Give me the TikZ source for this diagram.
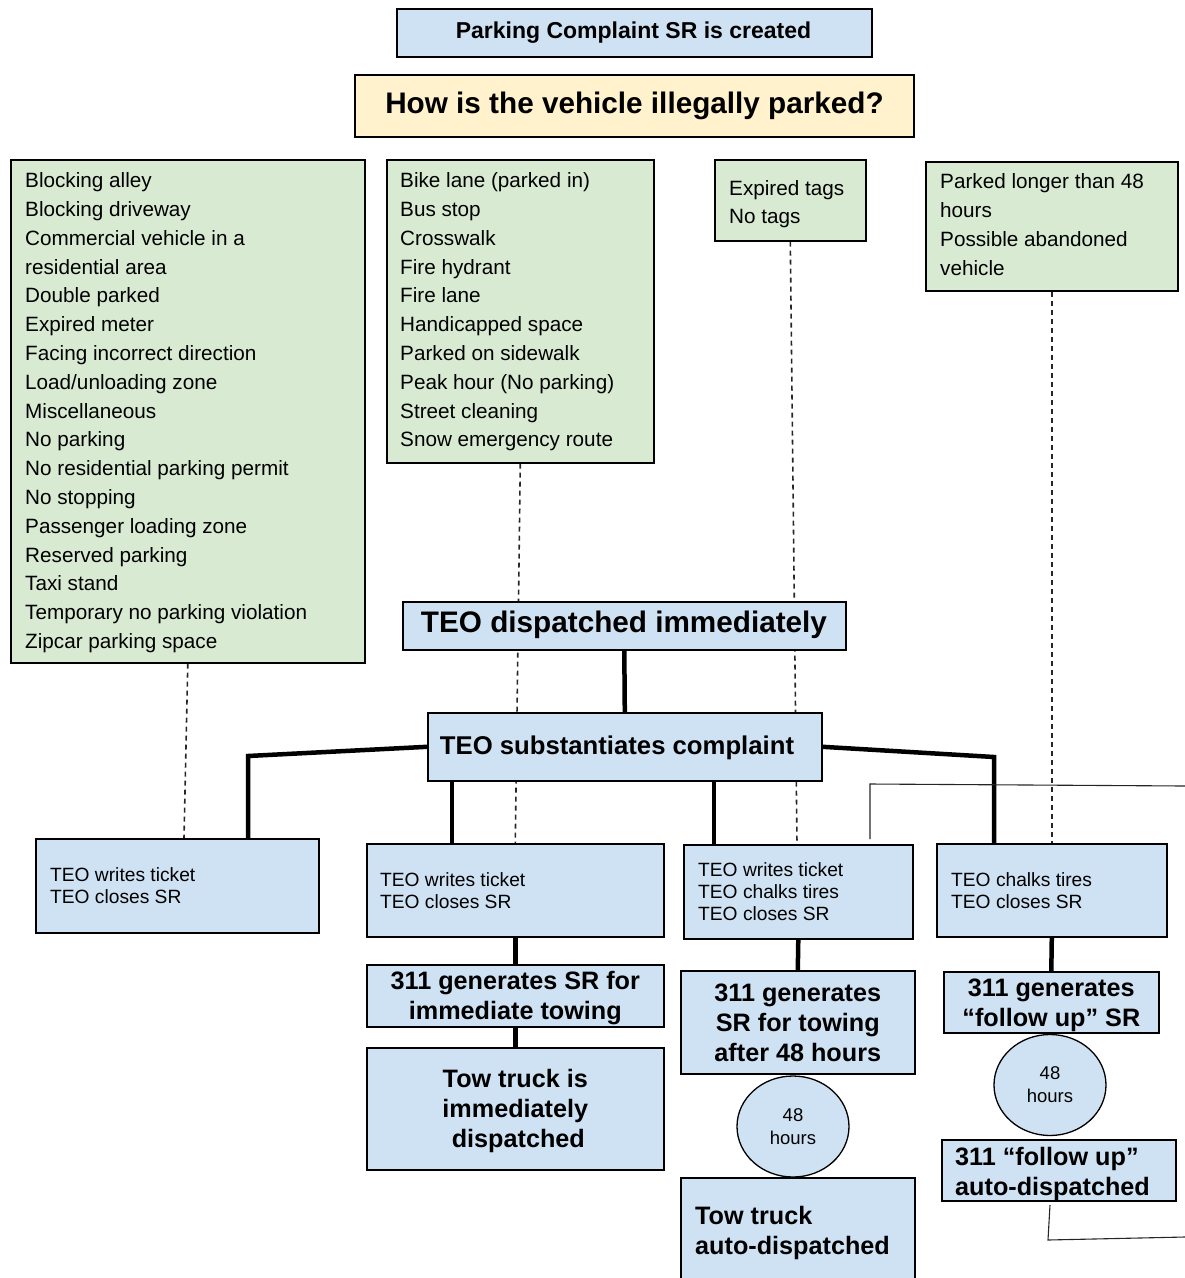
\documentclass[tikz,border=0pt]{standalone}
\usepackage{fontspec}
\setmainfont{Liberation Sans}
\usetikzlibrary{shapes.geometric,backgrounds}
\definecolor{blueF}{HTML}{CFE2F3}
\definecolor{greenF}{HTML}{D9EAD3}
\definecolor{yellowF}{HTML}{FFF2CC}
\begin{document}
\begin{tikzpicture}[x=1pt,y=-1pt,
 box/.style={draw=black, line width=1.6pt, rectangle, inner sep=0pt, anchor=north west},
 bluebox/.style={box, fill=blueF},
 greenbox/.style={box, fill=greenF},
 listtxt/.style={inner sep=0pt, anchor=north west, align=left, font=\fontsize{20.7}{28.8}\selectfont},
 smalltxt/.style={inner sep=0pt, anchor=north west, align=left, font=\fontsize{19.2}{22}\selectfont},
 boldtxt/.style={align=center, font=\fontsize{25.2}{30}\selectfont\bfseries, text depth=0pt},
 boldleft/.style={inner sep=0pt, anchor=north west, align=left, font=\fontsize{25.2}{30}\selectfont\bfseries},
 heavy/.style={line width=4.5pt},
 dashlink/.style={line width=1.6pt, draw=black!85, dash pattern=on 5pt off 4pt},
 thinlink/.style={line width=1.1pt, draw=black!85},
 oval/.style={ellipse, draw=black, line width=1.3pt, fill=blueF, inner sep=0pt, minimum width=112pt, minimum height=101pt, font=\fontsize{18.5}{23}\selectfont, align=center}
]
\useasboundingbox (0,0) rectangle (1185,1278);

% top
\node[bluebox, minimum width=475pt, minimum height=48pt] (created) at (396,8) {};
\node[inner sep=0pt, font=\fontsize{23}{28}\selectfont\bfseries] (createdT) at (633.5,33) {Parking Complaint SR is created};
\node[box, fill=yellowF, minimum width=559pt, minimum height=62pt] (question) at (354,74) {};
\node[inner sep=0pt, font=\fontsize{29.7}{34}\selectfont\bfseries] (questionT) at (634.5,105.5) {How is the vehicle illegally parked?};

% green category boxes
\node[greenbox, minimum width=354pt, minimum height=503pt] (g1) at (10,159) {};
\node[listtxt] (g1t) at (25,172.5) {Blocking alley\\Blocking driveway\\Commercial vehicle in a\\residential area\\Double parked\\Expired meter\\Facing incorrect direction\\Load/unloading zone\\Miscellaneous\\No parking\\No residential parking permit\\No stopping\\Passenger loading zone\\Reserved parking\\Taxi stand\\Temporary no parking violation\\Zipcar parking space};

\node[greenbox, minimum width=267pt, minimum height=303pt] (g2) at (386,159) {};
\node[listtxt] (g2t) at (400,172.5) {Bike lane (parked in)\\Bus stop\\Crosswalk\\Fire hydrant\\Fire lane\\Handicapped space\\Parked on sidewalk\\Peak hour (No parking)\\Street cleaning\\Snow emergency route};

\node[greenbox, minimum width=151pt, minimum height=81pt] (g3) at (714,159) {};
\node[listtxt, font=\fontsize{20.7}{28}\selectfont] (g3t) at (729,180.5) {Expired tags\\No tags};

\node[greenbox, minimum width=252pt, minimum height=129pt] (g4) at (925,161) {};
\node[listtxt] (g4t) at (940,173.5) {Parked longer than 48\\hours\\Possible abandoned\\vehicle};

% middle
\node[bluebox, minimum width=443pt, minimum height=48pt] (dispatched) at (402,601) {};
\node[inner sep=0pt, font=\fontsize{29.7}{34}\selectfont\bfseries] (dispatchedT) at (624,625) {TEO dispatched immediately};
\node[bluebox, minimum width=394pt, minimum height=68pt] (subst) at (427,712) {};
\node[inner sep=0pt, font=\fontsize{25.7}{30}\selectfont\bfseries] (substT) at (617,747.5) {TEO substantiates complaint};

% outcome boxes
\node[bluebox, minimum width=283pt, minimum height=94pt] (bA) at (35,838) {};
\node[smalltxt] (bAt) at (50,867.5) {TEO writes ticket\\TEO closes SR};
\node[bluebox, minimum width=297pt, minimum height=93pt] (bB) at (366,843) {};
\node[smalltxt] (bBt) at (380,872) {TEO writes ticket\\TEO closes SR};
\node[bluebox, minimum width=229pt, minimum height=94pt] (bC) at (683,844) {};
\node[smalltxt] (bCt) at (698,862.5) {TEO writes ticket\\TEO chalks tires\\TEO closes SR};
\node[bluebox, minimum width=230pt, minimum height=93pt] (bD) at (936,843) {};
\node[smalltxt] (bDt) at (951,872) {TEO chalks tires\\TEO closes SR};

% column B
\node[bluebox, minimum width=297pt, minimum height=62pt] (tB1) at (366,964) {};
\node[boldtxt] (tB1t) at (tB1.center) {311 generates SR for\\immediate towing};
\node[bluebox, minimum width=297pt, minimum height=122pt] (tB2) at (366,1047) {};
\node[boldtxt] (tB2t) at (tB2.center) {Tow truck is\\immediately\\\hspace{6pt}dispatched};

% column C
\node[bluebox, minimum width=234pt, minimum height=103pt] (tC1) at (680,970) {};
\node[boldtxt] (tC1t) at (tC1.center) {311 generates\\SR for towing\\after 48 hours};
\node[oval] (ov1) at (793,1126.5) {48\\hours};
\node[bluebox, minimum width=234pt, minimum height=115pt] (tC2) at (680,1177) {};
\node[boldleft] (tC2t) at (695,1206.5) {Tow truck\\auto-dispatched};

% column D
\node[bluebox, minimum width=215pt, minimum height=61pt] (tD1) at (943,971) {};
\node[boldtxt] (tD1t) at (tD1.center) {311 generates\\“follow up” SR};
\node[oval] (ov2) at (1050,1085) {48\\hours};
\node[bluebox, minimum width=234pt, minimum height=61pt] (tD2) at (941,1139) {};
\node[boldleft] (tD2t) at (955,1147.5) {311 “follow up”\\auto-dispatched};

% helper coordinates
\coordinate (lb) at (248,756);
\coordinate (rb) at (994,757);
\coordinate (xB) at (452,0);
\coordinate (xC) at (714,0);
\coordinate (xA) at (184,0);
\coordinate (xC2) at (797,0);
\coordinate (tl0) at (870,839);
\coordinate (tl1) at (870,784);
\coordinate (tl2) at (1185,786);
\coordinate (bl0) at (1050,1205);
\coordinate (bl1) at (1048,1240);
\coordinate (bl2) at (1185,1237);

\begin{pgfonlayer}{background}
% dashed category links
\draw[dashlink] (g1.south) -- (bA.north -| xA);
\draw[dashlink] (g2.south) -- (bB.north);
\draw[dashlink] (g3.south) -- (bC.north -| xC2);
\draw[dashlink] (g4.south) -- (bD.north);
% heavy links
\draw[heavy] (dispatched.south) -- (subst.north);
\draw[heavy] (subst.west) -- (lb) -- (lb |- bA.north);
\draw[heavy] (subst.east) -- (rb) -- (rb |- bD.north);
\draw[heavy] (subst.south -| xB) -- (bB.north -| xB);
\draw[heavy] (subst.south -| xC) -- (bC.north -| xC);
\draw[heavy] (bB.south) -- (tB1.north);
\draw[heavy] (tB1.south) -- (tB2.north);
\draw[heavy] (bC.south) -- (tC1.north);
\draw[heavy] (bD.south) -- (tD1.north);
% thin lines
\draw[thinlink] (tl0) -- (tl1) -- (tl2);
\draw[thinlink] (bl0) -- (bl1) -- (bl2);
\end{pgfonlayer}
\end{tikzpicture}
\end{document}
